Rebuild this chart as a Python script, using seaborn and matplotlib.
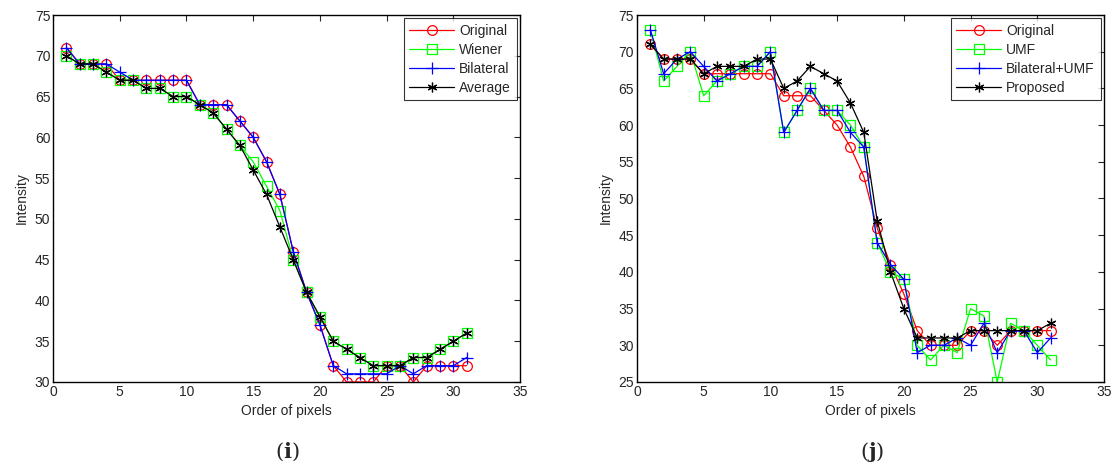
import matplotlib
matplotlib.use("Agg")
import matplotlib.pyplot as plt
import pandas as pd
import seaborn as sns

# pixel order
order = list(range(1, 32))

# panel (i)
original = [71, 69, 69, 69, 67, 67, 67, 67, 67, 67, 64, 64, 64, 62, 60, 57,
            53, 46, 41, 37, 32, 30, 30, 30, 32, 32, 30, 32, 32, 32, 32]
wiener = [70, 69, 69, 68, 67, 67, 66, 66, 65, 65, 64, 63, 61, 59, 57, 54,
          51, 45, 41, 38, 35, 34, 33, 32, 32, 32, 33, 33, 34, 35, 36]
bilateral = [71, 69, 69, 69, 68, 67, 67, 67, 67, 67, 64, 64, 64, 62, 60, 57,
             53, 46, 41, 37, 32, 31, 31, 31, 31, 32, 31, 32, 32, 32, 33]
average = [70, 69, 69, 68, 67, 67, 66, 66, 65, 65, 64, 63, 61, 59, 56, 53,
           49, 45, 41, 38, 35, 34, 33, 32, 32, 32, 33, 33, 34, 35, 36]

# panel (j)
umf = [73, 66, 68, 70, 64, 66, 67, 68, 68, 70, 59, 62, 65, 62, 62, 60,
       57, 44, 40, 39, 30, 28, 30, 29, 35, 34, 25, 33, 32, 30, 28]
bilateral_umf = [73, 67, 69, 70, 68, 66, 67, 68, 68, 70, 59, 62, 65, 62, 62, 59,
                 57, 44, 41, 39, 29, 30, 30, 31, 30, 33, 29, 32, 32, 29, 31]
proposed = [71, 69, 69, 69, 67, 68, 68, 68, 69, 69, 65, 66, 68, 67, 66, 63,
            59, 47, 40, 35, 31, 31, 31, 31, 32, 32, 32, 32, 32, 32, 33]

panel_i = pd.DataFrame({"Original": original, "Wiener": wiener,
                        "Bilateral": bilateral, "Average": average}, index=order)
panel_j = pd.DataFrame({"Original": original, "UMF": umf,
                        "Bilateral+UMF": bilateral_umf, "Proposed": proposed}, index=order)

#          red        green      blue       black
colors = ["#FF0000", "#00FF00", "#0000FF", "#000000"]
# matlab-ish markers: circle, square, plus, asterisk
markers = ["o", "s", "+", (6, 2, 0)]
msizes = [7, 7, 8, 7]

sns.set_theme(style="white")
plt.rcParams["font.family"] = ["Liberation Sans", "DejaVu Sans"]
plt.rcParams["mathtext.fontset"] = "dejavuserif"

fig = plt.figure(figsize=(11.12, 4.72), dpi=100)
ax_i = fig.add_axes([0.0477, 0.1907, 0.42, 0.7775])
ax_j = fig.add_axes([0.5728, 0.1907, 0.42, 0.7775])


def draw_panel(ax, df, ylim, yticks):
    for name, color, marker, ms in zip(df.columns, colors, markers, msizes):
        sns.lineplot(
            x=df.index,
            y=df[name],
            ax=ax,
            color=color,
            marker=marker,
            markersize=ms,
            markerfacecolor="none",
            markeredgecolor=color,
            markeredgewidth=0.9,
            linewidth=0.9,
            label=name,
        )
    ax.set_xlim(0, 35)
    ax.set_ylim(*ylim)
    ax.set_xticks(range(0, 36, 5))
    ax.set_yticks(yticks)
    ax.set_xlabel("Order of pixels", fontsize=10)
    ax.set_ylabel("Intensity", fontsize=10)
    ax.tick_params(axis="both", direction="in", top=True, right=True,
                   length=4, width=0.8, labelsize=10, pad=2)
    for spine in ax.spines.values():
        spine.set_color("black")
        spine.set_linewidth(1.0)
    leg = ax.legend(loc="upper right", fontsize=10, frameon=True, fancybox=False,
                    handlelength=3.2, borderpad=0.4, labelspacing=0.35,
                    borderaxespad=0.25, handletextpad=0.4)
    leg.get_frame().set_edgecolor("black")
    leg.get_frame().set_linewidth(0.8)


draw_panel(ax_i, panel_i, (30, 75), range(30, 76, 5))
draw_panel(ax_j, panel_j, (25, 75), range(25, 76, 5))

fig.text(0.258, 0.042, r"($\mathbf{i}$)", ha="center", va="center",
         fontsize=15, family="DejaVu Serif")
fig.text(0.784, 0.042, r"($\mathbf{j}$)", ha="center", va="center",
         fontsize=15, family="DejaVu Serif")

fig.savefig("out.png", dpi=100)
